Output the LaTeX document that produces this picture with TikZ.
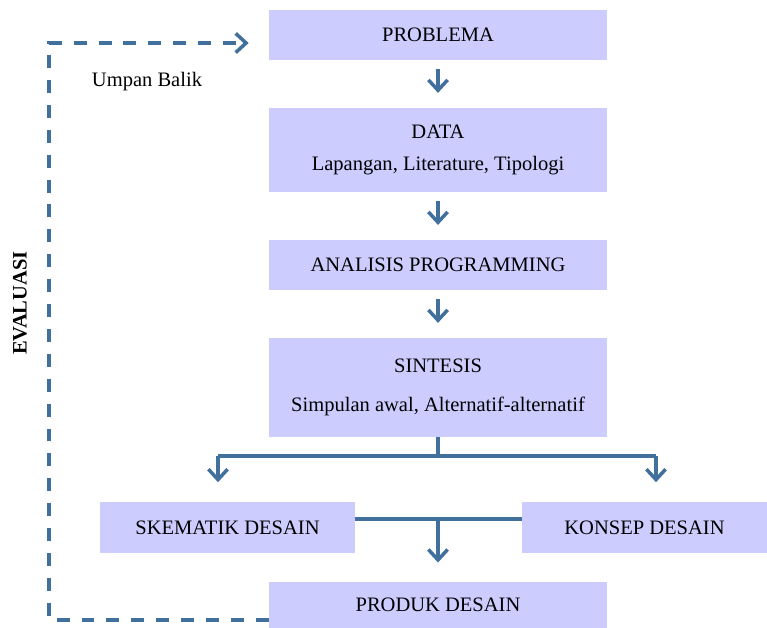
\documentclass[tikz,border=0pt]{standalone}
\usepackage{fontspec}
\setmainfont{Liberation Serif}
\usepackage{tikz}
\usetikzlibrary{positioning}
\usetikzlibrary{calc}
\usetikzlibrary{arrows.meta}
\definecolor{boxfill}{RGB}{204,204,255}
\definecolor{linkblue}{RGB}{66,112,156}
\tikzset{stage/.style={fill=boxfill,inner sep=0pt,minimum width=8.45cm,minimum height=1.25cm,align=center,font=\fontsize{14.6}{17}\selectfont},link/.style={draw=linkblue,line width=2.5pt},flow/.style={link,-{Straight Barb[length=2.6mm,width=4.8mm]},shorten <=0.22cm,shorten >=0.37cm},feedback/.style={link,dash pattern=on 9.2pt off 8.5pt}}

\begin{document}
\begin{tikzpicture}[x=0.025cm,y=-0.025cm]
\useasboundingbox (0,0) rectangle (767,628);
\node[stage] (prob) at (438,35) {PROBLEMA};
\node[stage,minimum height=2.1cm] (data) at (438,150) {DATA\\[5.7pt]Lapangan, Literature, Tipologi};
\node[stage] (anal) at (438,265) {ANALISIS PROGRAMMING};
\node[stage,minimum height=2.475cm] (sint) at (438,387.5) {SINTESIS\\[10.6pt]Simpulan awal, Alternatif-alternatif};
\node[stage,minimum width=6.375cm] (skem) at (227.5,527.5) {SKEMATIK DESAIN};
\node[stage,minimum width=6.125cm] (kons) at (644.5,527.5) {KONSEP DESAIN};
\node[stage,minimum height=1.15cm] (prod) at (438,605) {PRODUK DESAIN};
\node[font=\fontsize{14.6}{17}\selectfont] (umpan) at (147,82) {Umpan Balik};
\node[font=\fontsize{14.6}{17}\selectfont\bfseries,rotate=90] (eval) at (20,303) {EVALUASI};
\draw[flow] (prob) -- (data);
\draw[flow] (data) -- (anal);
\draw[flow] (anal) -- (sint);
% branch to skematik and konsep
\coordinate (jl) at (218,456);
\coordinate (jr) at (656,456);
\draw[link] (sint.south) -- (sint.south |- jl);
\draw[link] (jl) -- (jr);
\draw[flow,shorten <=0pt,shorten >=0.5cm] (jl) -- (jl |- skem.north);
\draw[flow,shorten <=0pt,shorten >=0.5cm] (jr) -- (jr |- kons.north);
% join to produk
\coordinate (jm) at (438,519);
\draw[link] (skem.east |- jm) -- (kons.west |- jm);
\draw[flow,shorten <=0pt,shorten >=0.48cm] (jm) -- (prod.north);
% feedback loop
\coordinate (fbbot) at (49,620);
\coordinate (fbtop) at (49,43);
\draw[feedback,-{Straight Barb[length=2.6mm,width=4.8mm]},shorten >=0.5cm] (prod.west |- fbbot) -- (fbbot) -- (fbtop) -- (prob.west |- fbtop);
\end{tikzpicture}
\end{document}
